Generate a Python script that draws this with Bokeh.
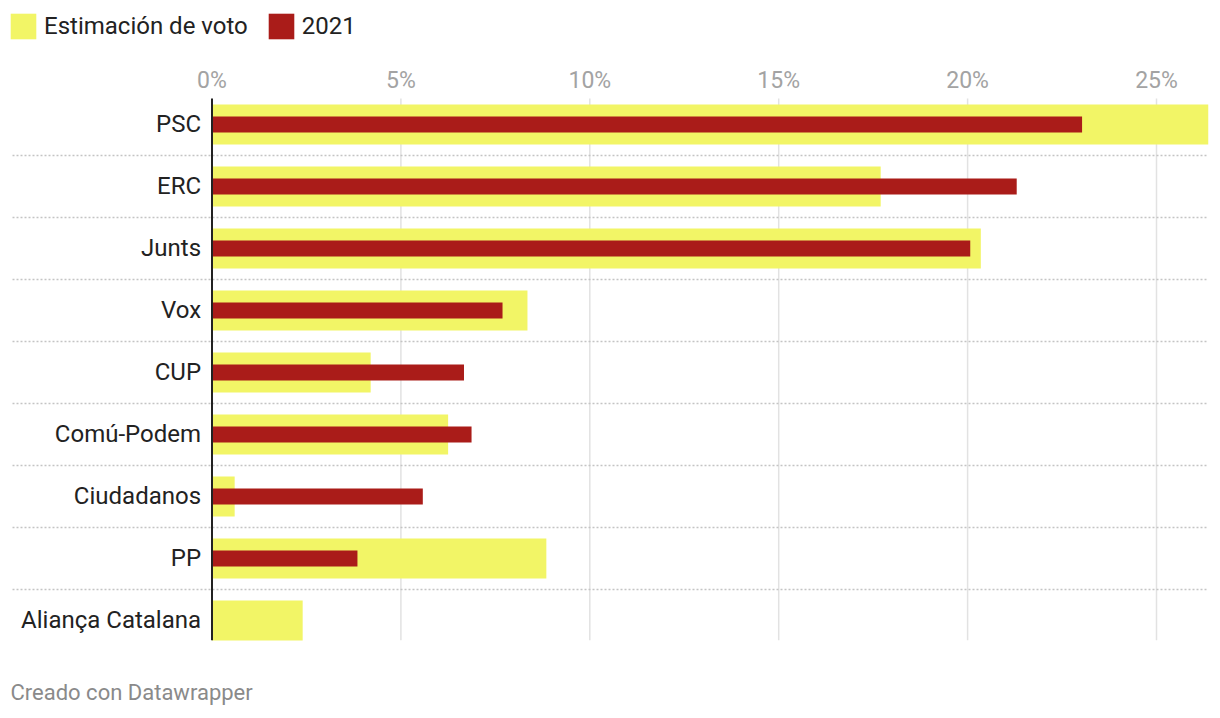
from bokeh.plotting import figure
from bokeh.models import Range1d, Legend, LegendItem
from bokeh.core.properties import value
from bokeh.embed import file_html
from bokeh.resources import INLINE

parties = ["PSC", "ERC", "Junts", "Vox", "CUP", "Comú-Podem", "Ciudadanos", "PP", "Aliança Catalana"]
estimacion = [26.5, 17.7, 20.35, 8.35, 4.2, 6.25, 0.6, 8.85, 2.4]
resultados_2021 = [23.03, 21.30, 20.07, 7.69, 6.67, 6.87, 5.58, 3.85, float("nan")]
tick_values = [0, 5, 10, 15, 20, 25]
tick_labels = ["0%", "5%", "10%", "15%", "20%", "25%"]

YELLOW = "#f2f566"
RED = "#aa1c19"
FONT = value("Roboto")

px_per_unit = 37.78
x_start = -211.5 / px_per_unit
x_end = (1208 - 211.5) / px_per_unit

p = figure(width=1212, height=710, output_backend="svg", toolbar_location=None,
           x_range=Range1d(x_start, x_end), y_range=Range1d(9.452, -2.0),
           x_axis_location=None, y_axis_location=None,
           min_border_left=0, min_border_right=4, min_border_top=0, min_border_bottom=0)
p.grid.visible = False
p.outline_line_color = None
p.background_fill_color = "white"

idx = list(range(len(parties)))

# gridlines
grid_x = [t for t in tick_values if t != 0]
p.segment(x0=grid_x, y0=-0.42, x1=grid_x, y1=8.32, line_color="#e2e2e2", line_width=1.5)

# row separators
sep_y = [i + 0.5 for i in idx[:-1]]
p.segment(x0=x_start + 12 / px_per_unit, y0=sep_y, x1=x_end, y1=sep_y,
          line_color="#c4c4c4", line_width=1.5, line_dash="2 2")

ry = p.hbar(y=idx, left=0, right=estimacion, height=0.645, fill_color=YELLOW, line_color=None)
rr = p.hbar(y=idx, left=0, right=resultados_2021, height=0.258, fill_color=RED, line_color=None)

# zero axis line
p.segment(x0=[0], y0=-0.42, x1=[0], y1=8.32, line_color="#222222", line_width=2)

# tick labels
p.text(x=tick_values, y=-0.71, text=tick_labels, text_align="center", text_baseline="middle",
       text_font=FONT, text_font_size="23px", text_color="#a3a3a3")

# category labels
p.text(x=-0.29, y=idx, text=parties, text_align="right", text_baseline="middle",
       text_font=FONT, text_font_size="24px", text_color="#222222")

# footer
p.text(x=[x_start + 10 / px_per_unit], y=[9.16], text=["Creado con Datawrapper"], text_align="left",
       text_baseline="middle", text_font=FONT, text_font_size="22px", text_color="#8a8a8a")

legend = Legend(items=[LegendItem(label="Estimación de voto", renderers=[ry]),
                       LegendItem(label="2021", renderers=[rr])],
                location=(7, 668), orientation="horizontal",
                glyph_width=32, glyph_height=32, label_standoff=5, spacing=17,
                padding=2, margin=0, border_line_color=None, background_fill_alpha=0,
                label_text_font="Roboto", label_text_font_size="24px", label_text_color="#222222",
                label_height=32)
p.add_layout(legend)

open("out.html", "w").write(file_html(p, INLINE))
